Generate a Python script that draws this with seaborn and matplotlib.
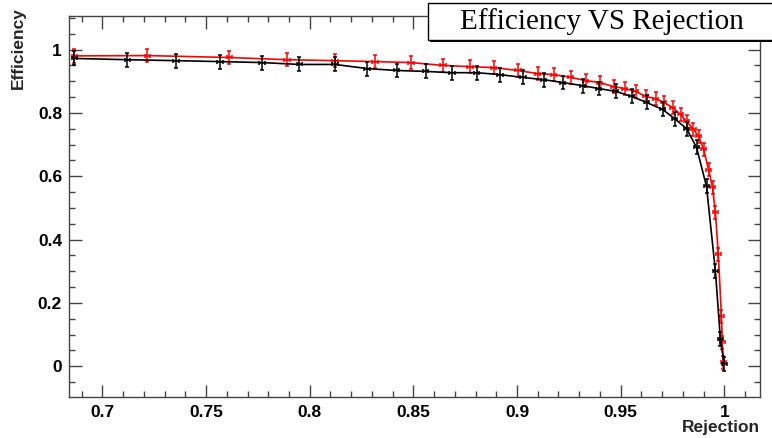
import matplotlib
matplotlib.use("Agg")
import matplotlib.pyplot as plt
from matplotlib.patches import Rectangle
from matplotlib.ticker import MultipleLocator
import numpy as np
import pandas as pd
import seaborn as sns

# ---------------- data ----------------
black_rej = [0.6865, 0.712, 0.7356, 0.7568, 0.777, 0.795, 0.8122, 0.8277, 0.842,
             0.856, 0.8686, 0.8806, 0.8917, 0.9028, 0.9129, 0.922, 0.9317, 0.9394,
             0.9476, 0.9553, 0.9625, 0.9702, 0.976, 0.9818, 0.9866, 0.9914, 0.9957,
             0.9981, 1.0]
black_eff = [0.972, 0.968, 0.965, 0.962, 0.959, 0.953, 0.953, 0.940, 0.934,
             0.931, 0.927, 0.927, 0.921, 0.912, 0.905, 0.896, 0.886, 0.877,
             0.868, 0.852, 0.833, 0.811, 0.782, 0.750, 0.691, 0.568, 0.300,
             0.085, 0.006]

red_rej = [0.6865, 0.7217, 0.7612, 0.789, 0.8122, 0.8315, 0.8488, 0.8643, 0.8773,
           0.8888, 0.9004, 0.910, 0.9177, 0.9259, 0.9331, 0.9399, 0.9466, 0.9519,
           0.9572, 0.962, 0.9669, 0.9707, 0.9751, 0.9789, 0.9818, 0.9851, 0.9876,
           0.990, 0.9924, 0.9943, 0.9957, 0.9971, 0.9986, 0.999, 0.9995]
red_eff = [0.980, 0.981, 0.975, 0.968, 0.965, 0.962, 0.959, 0.950, 0.946,
           0.943, 0.934, 0.924, 0.921, 0.912, 0.902, 0.896, 0.883, 0.877,
           0.868, 0.852, 0.845, 0.833, 0.817, 0.795, 0.773, 0.748, 0.726,
           0.685, 0.621, 0.565, 0.486, 0.353, 0.158, 0.076, 0.013]

black_yerr = 0.022
red_yerr = 0.021
rej_err = 0.0013

x_ticks = [0.7, 0.75, 0.8, 0.85, 0.9, 0.95, 1.0]
x_ticklabels = ["0.7", "0.75", "0.8", "0.85", "0.9", "0.95", "1"]
y_ticks = [0, 0.2, 0.4, 0.6, 0.8, 1.0]
y_ticklabels = ["0", "0.2", "0.4", "0.6", "0.8", "1"]

title = "Efficiency VS Rejection"
xlabel = "Rejection"
ylabel = "Efficiency"

# ---------------- figure ----------------
sns.set_theme(style="ticks")
plt.rcParams["font.family"] = ["Liberation Sans", "DejaVu Sans"]

W, H = 772, 438
fig = plt.figure(figsize=(W / 100, H / 100), dpi=100)
fig.patch.set_facecolor("white")

ax_l, ax_r, ax_t, ax_b = 69, 760, 16, 397
ax = fig.add_axes([ax_l / W, 1 - ax_b / H, (ax_r - ax_l) / W, (ax_b - ax_t) / H])
ax.set_facecolor("white")

df_black = pd.DataFrame({"rej": black_rej, "eff": black_eff})
df_red = pd.DataFrame({"rej": red_rej, "eff": red_eff})

sns.lineplot(data=df_red, x="rej", y="eff", ax=ax, color="#ff0000", lw=1.2,
             sort=False, estimator=None, zorder=3)
sns.lineplot(data=df_black, x="rej", y="eff", ax=ax, color="black", lw=1.2,
             sort=False, estimator=None, zorder=4)
ax.errorbar(df_red["rej"], df_red["eff"], yerr=red_yerr, xerr=rej_err, fmt="none",
            ecolor="#ff0000", elinewidth=1.1, capsize=1.6, capthick=1.1, zorder=3)
ax.errorbar(df_black["rej"], df_black["eff"], yerr=black_yerr, xerr=rej_err, fmt="none",
            ecolor="black", elinewidth=1.1, capsize=1.6, capthick=1.1, zorder=4)

ax.set_xlim(0.6839, 1.0172)
ax.set_ylim(-0.097, 1.106)

ax.set_xticks(x_ticks)
ax.set_xticklabels(x_ticklabels)
ax.set_yticks(y_ticks)
ax.set_yticklabels(y_ticklabels)
ax.xaxis.set_minor_locator(MultipleLocator(0.01))
ax.yaxis.set_minor_locator(MultipleLocator(0.05))

axis_col = "#444444"
for s in ax.spines.values():
    s.set_visible(True)
    s.set_color(axis_col)
    s.set_linewidth(1.0)

ax.tick_params(which="both", direction="in", top=True, right=True, color=axis_col, width=1.0)
ax.tick_params(which="major", length=9)
ax.tick_params(which="minor", length=4.5)
ax.tick_params(axis="x", which="major", pad=6)
ax.tick_params(axis="y", which="major", pad=5)
for lab in ax.get_xticklabels() + ax.get_yticklabels():
    lab.set_fontweight("bold")
    lab.set_fontsize(12.5)
    lab.set_color("black")

ax.set_xlabel(xlabel, fontsize=12.5, fontweight="bold", loc="right", labelpad=0)
ax.set_ylabel(ylabel, fontsize=12.5, fontweight="bold", loc="top")
ax.yaxis.set_label_coords(-0.062, 1.022)
ax.grid(False)

# title box (ROOT style pave with shadow)
bx0, by0, bx1, by1 = 428, 3, 810, 40
fig.patches.append(Rectangle((bx0 / W + 2 / W, 1 - (by1 + 2) / H), (bx1 - bx0) / W,
                             (by1 - by0) / H, transform=fig.transFigure,
                             facecolor="black", edgecolor="none", zorder=10))
fig.patches.append(Rectangle((bx0 / W, 1 - by1 / H), (bx1 - bx0) / W, (by1 - by0) / H,
                             transform=fig.transFigure, facecolor="white",
                             edgecolor="black", linewidth=1.0, zorder=11))
fig.text(602 / W, 1 - 21.5 / H, title, ha="center", va="center", fontsize=21,
         family=["Liberation Serif", "DejaVu Serif"], color="black", zorder=12)

fig.savefig("out.png", dpi=100, facecolor="white")
